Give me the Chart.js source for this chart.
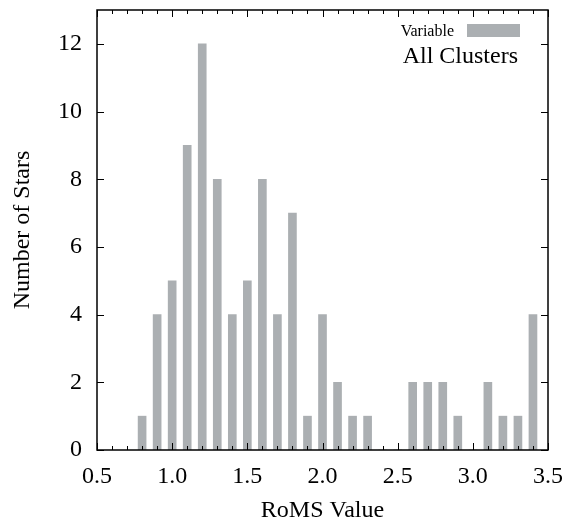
<!DOCTYPE html>
<html>
<head>
<meta charset="utf-8">
<script src="https://cdn.jsdelivr.net/npm/chart.js@4/dist/chart.umd.min.js"></script>
<style>
  html, body { margin: 0; padding: 0; background: #fff; }
  #wrap { width: 562px; height: 523px; }
</style>
</head>
<body>
<div id="wrap"><canvas id="roms-chart"></canvas></div>
<script>
const binCenters = [0.8, 0.9, 1.0, 1.1, 1.2, 1.3, 1.4, 1.5, 1.6, 1.7, 1.8, 1.9, 2.0, 2.1,
  2.2, 2.3, 2.4, 2.5, 2.6, 2.7, 2.8, 2.9, 3.0, 3.1, 3.2, 3.3, 3.4];
const starCounts = [1, 4, 5, 9, 12, 8, 4, 5, 8, 4, 7, 1, 4, 2,
  1, 1, 0, 0, 2, 2, 2, 1, 0, 2, 1, 1, 4];
const xMinorTicks = [0.5, 0.6, 0.7, 0.8, 0.9, 1.0, 1.1, 1.2, 1.3, 1.4, 1.5, 1.6, 1.7, 1.8, 1.9,
  2.0, 2.1, 2.2, 2.3, 2.4, 2.5, 2.6, 2.7, 2.8, 2.9, 3.0, 3.1, 3.2, 3.3, 3.4, 3.5];
const yMajorTicks = [0, 2, 4, 6, 8, 10, 12];

const serif = 'Liberation Serif, "DejaVu Serif", serif';

// box, inward ticks on all four sides, and the key in the top right
const frame = {
  id: 'frame',
  afterDraw(chart) {
    const { ctx, chartArea: a, scales: { x, y } } = chart;
    ctx.save();
    ctx.strokeStyle = '#000';
    ctx.lineWidth = 1;
    ctx.beginPath();
    xMinorTicks.forEach(v => {
      const px = Math.round(x.getPixelForValue(v)) + 0.5;
      const major = Math.abs(v * 2 - Math.round(v * 2)) < 1e-6;
      const len = major ? 7 : 4;
      ctx.moveTo(px, a.bottom); ctx.lineTo(px, a.bottom - len);
      ctx.moveTo(px, a.top); ctx.lineTo(px, a.top + len);
    });
    yMajorTicks.forEach(v => {
      const py = Math.round(y.getPixelForValue(v)) + 0.5;
      ctx.moveTo(a.left, py); ctx.lineTo(a.left + 7, py);
      ctx.moveTo(a.right, py); ctx.lineTo(a.right - 7, py);
    });
    ctx.stroke();
    ctx.lineWidth = 1.5;
    ctx.strokeRect(a.left, a.top, a.right - a.left, a.bottom - a.top);

    ctx.fillStyle = '#000';
    ctx.textBaseline = 'alphabetic';
    ctx.textAlign = 'right';
    ctx.font = '16px ' + serif;
    ctx.fillText('Variable', 454, 36);
    ctx.fillStyle = '#abafb2';
    ctx.fillRect(467, 24, 53, 13);
    ctx.fillStyle = '#000';
    ctx.font = '24px ' + serif;
    ctx.fillText('All Clusters', 518, 63);
    ctx.restore();
  }
};

new Chart(document.getElementById('roms-chart'), {
  type: 'bar',
  data: {
    datasets: [{
      label: 'All Clusters',
      data: binCenters.map((c, i) => ({ x: c, y: starCounts[i] })),
      backgroundColor: '#abafb2',
      borderWidth: 0,
      barThickness: 8
    }]
  },
  options: {
    responsive: true,
    maintainAspectRatio: false,
    animation: false,
    layout: { padding: { top: 10, right: 14, left: 0, bottom: 0 } },
    plugins: { legend: { display: false }, tooltip: { enabled: false } },
    scales: {
      x: {
        type: 'linear',
        min: 0.5,
        max: 3.5,
        offset: false,
        grid: { display: false, drawTicks: false },
        border: { display: false },
        afterFit: s => { s.height = 73; s.paddingLeft = 0; s.paddingRight = 0; },
        ticks: {
          stepSize: 0.5,
          padding: 12,
          color: '#000',
          font: { family: serif, size: 24 },
          callback: v => v.toFixed(1)
        },
        title: {
          display: true,
          text: 'RoMS Value',
          color: '#000',
          font: { family: serif, size: 24 },
          padding: { top: 0, bottom: -2 }
        }
      },
      y: {
        min: 0,
        max: 13,
        grid: { display: false, drawTicks: false },
        border: { display: false },
        afterFit: s => { s.width = 97; s.paddingTop = 0; s.paddingBottom = 0; },
        afterBuildTicks: s => { s.ticks = s.ticks.filter(t => yMajorTicks.includes(t.value)); },
        ticks: {
          stepSize: 2,
          padding: 15,
          color: '#000',
          font: { family: serif, size: 24 }
        },
        title: {
          display: true,
          text: 'Number of Stars',
          color: '#000',
          font: { family: serif, size: 24 },
          padding: { top: 8, bottom: 0 }
        }
      }
    }
  },
  plugins: [frame]
});
</script>
</body>
</html>
